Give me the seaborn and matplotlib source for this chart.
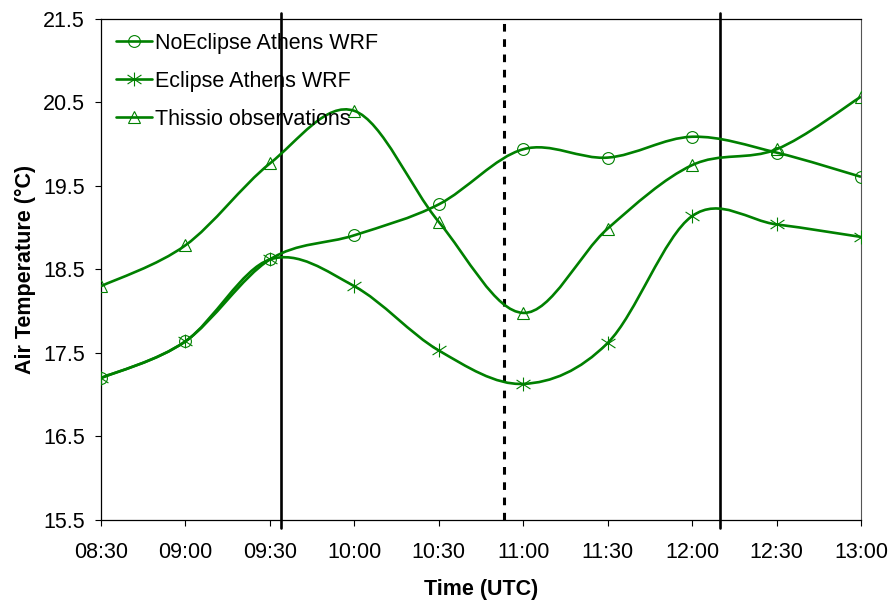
import numpy as np
import pandas as pd
import matplotlib
matplotlib.use('Agg')
import matplotlib.pyplot as plt
from matplotlib.path import Path
from matplotlib.patches import PathPatch
from matplotlib.lines import Line2D
import seaborn as sns

# -- data --
times = ['08:30', '09:00', '09:30', '10:00', '10:30',
         '11:00', '11:30', '12:00', '12:30', '13:00']
no_eclipse = [17.20, 17.64, 18.62, 18.91, 19.28, 19.94, 19.84, 20.09, 19.90, 19.61]
eclipse = [17.20, 17.64, 18.62, 18.30, 17.53, 17.13, 17.62, 19.14, 19.04, 18.89]
thissio = [18.30, 18.79, 19.77, 20.40, 19.07, 17.98, 18.99, 19.75, 19.94, 20.57]
series_names = ['NoEclipse Athens WRF', 'Eclipse Athens WRF', 'Thissio observations']
# eclipse first contact, maximum, last contact
event_times = ['09:34', '10:53', '12:10']
y_ticks = [15.5, 16.5, 17.5, 18.5, 19.5, 20.5, 21.5]


def to_pos(t):
    h, m = t.split(':')
    return (int(h) * 60 + int(m) - 8 * 60 - 30) / 30.0


green = '#008000'
star = Path([(0, -1), (0, 1), (-1, -0.65), (1, 0.65), (-1, 0.65), (1, -0.65)],
            [Path.MOVETO, Path.LINETO, Path.MOVETO, Path.LINETO, Path.MOVETO, Path.LINETO])
markers = {series_names[0]: 'o', series_names[1]: star, series_names[2]: '^'}
msizes = {series_names[0]: 8.5, series_names[1]: 10, series_names[2]: 8.5}

x = [to_pos(t) for t in times]
df = pd.DataFrame({
    'x': x * 3,
    'temp': no_eclipse + eclipse + thissio,
    'series': np.repeat(series_names, len(times)),
})


def smooth_path(xs, ys):
    # Excel-like smoothed line: cubic Bezier segments through the points
    pts = np.column_stack([xs, ys])
    n = len(pts)
    verts = [pts[0]]
    codes = [Path.MOVETO]
    for i in range(n - 1):
        p0 = pts[max(i - 1, 0)]
        p1 = pts[i]
        p2 = pts[i + 1]
        p3 = pts[min(i + 2, n - 1)]
        verts += [p1 + (p2 - p0) / 6, p2 - (p3 - p1) / 6, p2]
        codes += [Path.CURVE4] * 3
    return Path(verts, codes)


sns.set_style('ticks')
plt.rcParams['font.family'] = ['Liberation Sans', 'DejaVu Sans']
plt.rcParams['text.color'] = 'black'
plt.rcParams['axes.labelcolor'] = 'black'

fig = plt.figure(figsize=(8.89, 6), dpi=100)
ax = fig.add_axes([101 / 889, 1 - 520 / 600, 760 / 889, 501 / 600])

for name in series_names:
    sub = df[df['series'] == name]
    ax.add_patch(PathPatch(smooth_path(sub['x'].values, sub['temp'].values),
                           facecolor='none', edgecolor=green, lw=1.9, zorder=3))
    sns.lineplot(data=sub, x='x', y='temp', ax=ax, linestyle='none',
                 marker=markers[name], markersize=msizes[name], markerfacecolor='none',
                 markeredgecolor=green, markeredgewidth=0.8, color=green, zorder=4)

for i, t in enumerate(event_times):
    if i == 1:
        ax.axvline(to_pos(t), color='black', lw=2.2, linestyle=(0, (2.5, 2.5)), zorder=2)
    else:
        ax.axvline(to_pos(t), ymin=-0.016, ymax=1.012, color='black', lw=1.9,
                   clip_on=False, zorder=2)

ax.set_xlim(x[0], x[-1])
ax.set_ylim(15.5, 21.5)
ax.set_xticks(x)
ax.set_xticklabels(times)
ax.set_yticks(y_ticks)
ax.set_yticklabels([f'{v:.1f}' for v in y_ticks])
ax.tick_params(axis='both', direction='out', length=4, width=0.8, labelsize=15.5,
               colors='black')
ax.tick_params(axis='x', pad=12)
ax.tick_params(axis='y', pad=7.5)
for s in ['left', 'bottom', 'top']:
    ax.spines[s].set_color('black')
    ax.spines[s].set_linewidth(0.9)
ax.spines['right'].set_color('#555555')
ax.spines['right'].set_linewidth(0.8)

ax.set_xlabel('Time (UTC)', fontsize=15.5, fontweight='bold', labelpad=11)
ax.set_ylabel('Air Temperature (°C)', fontsize=15.5, fontweight='bold', labelpad=5)

handles = [Line2D([], [], color=green, lw=1.9, marker=markers[n], markersize=msizes[n],
                  markerfacecolor='none', markeredgecolor=green, markeredgewidth=0.8)
           for n in series_names]
ax.legend(handles, series_names, loc='upper left', bbox_to_anchor=(0.02, 0.972),
          frameon=False, fontsize=15.5, handlelength=1.65, handletextpad=0.15,
          labelspacing=0.78, borderpad=0, borderaxespad=0)

fig.savefig('out.png', dpi=100)
